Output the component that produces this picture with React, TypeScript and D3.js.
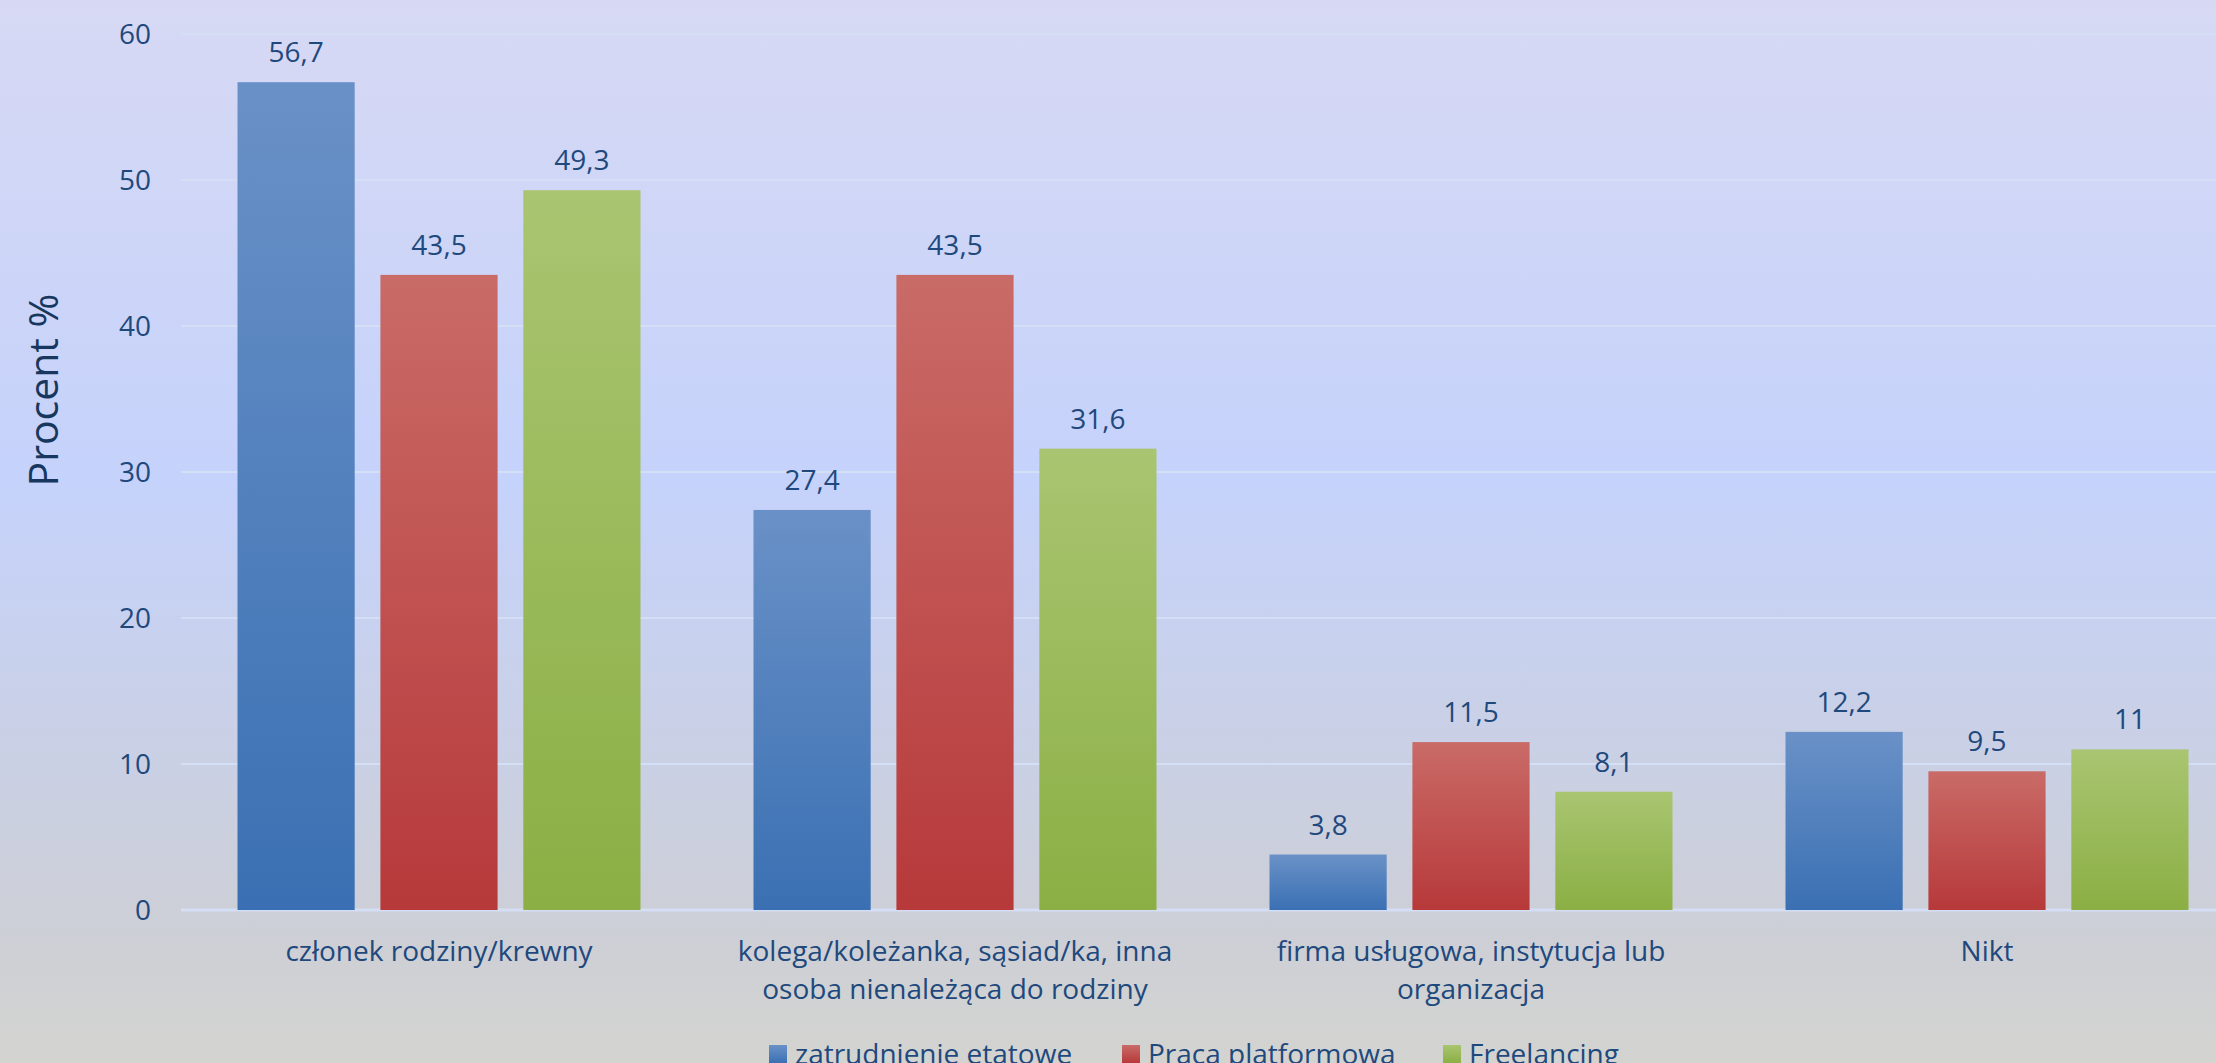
import React from "react";
import * as d3 from "d3";

const categories: string[][] = [
  ["członek rodziny/krewny"],
  ["kolega/koleżanka, sąsiad/ka, inna", "osoba nienależąca do rodziny"],
  ["firma usługowa, instytucja lub", "organizacja"],
  ["Nikt"],
];
const seriesNames = ["zatrudnienie etatowe", "Praca platformowa", "Freelancing"];
const etatowe = [56.7, 27.4, 3.8, 12.2];
const platformowa = [43.5, 43.5, 11.5, 9.5];
const freelancing = [49.3, 31.6, 8.1, 11];
const yTicks = [0, 10, 20, 30, 40, 50, 60];
const yTitle = "Procent %";

const seriesColors = [
  { top: "#6A91C7", bottom: "#3A70B3" },
  { top: "#C96B67", bottom: "#B7393A" },
  { top: "#A9C571", bottom: "#8BAF44" },
];

const W = 2216;
const H = 1063;
const FONT = "'Open Sans', 'Noto Sans', sans-serif";
const TEXT = "#1F497D";

export default function App() {
  const series = [etatowe, platformowa, freelancing];
  const plotLeft = 181;
  const y = d3.scaleLinear().domain([0, 60]).range([910, 34]);
  const x0 = d3
    .scaleBand<number>()
    .domain(d3.range(categories.length))
    .range([plotLeft, plotLeft + 516 * 4])
    .paddingInner(0.219)
    .paddingOuter(0.1095);
  const x1 = d3
    .scaleBand<number>()
    .domain(d3.range(series.length))
    .range([0, x0.bandwidth()])
    .paddingInner(0.18)
    .paddingOuter(0);

  const fmt = (v: number) => String(v).replace(".", ",");

  const legendItems = [
    { x: 769, tx: 795 },
    { x: 1122, tx: 1148 },
    { x: 1443, tx: 1469 },
  ];

  return (
    <div style={{ position: "fixed", left: 0, top: 0, width: W, height: H, overflow: "hidden" }}>
      <svg width={W} height={H} style={{ display: "block" }}>
        <defs>
          <linearGradient id="bg" x1="0" y1="0" x2="0" y2="1">
            <stop offset="0" stopColor="#D7D9F4" />
            <stop offset="0.45" stopColor="#C5D2FB" />
            <stop offset="0.88" stopColor="#CDCFD6" />
            <stop offset="1" stopColor="#D3D4D0" />
          </linearGradient>
          {seriesColors.map((c, i) => (
            <linearGradient key={i} id={`g${i}`} x1="0" y1="0" x2="0" y2="1">
              <stop offset="0" stopColor={c.top} />
              <stop offset="1" stopColor={c.bottom} />
            </linearGradient>
          ))}
        </defs>
        <rect x={0} y={0} width={W} height={H} fill="url(#bg)" />
        {/* gridlines */}
        {yTicks.map((t) => (
          <line
            key={t}
            x1={plotLeft}
            x2={W}
            y1={y(t)}
            y2={y(t)}
            stroke="#D4DEF4"
            strokeWidth={t === 0 ? 3 : 2}
          />
        ))}
        {/* y tick labels */}
        {yTicks.map((t) => (
          <text
            key={"l" + t}
            x={151}
            y={y(t)}
            dy="0.36em"
            textAnchor="end"
            fontFamily={FONT}
            fontSize={28}
            fill={TEXT}
          >
            {t}
          </text>
        ))}
        {/* y title */}
        <text
          transform={`translate(58,390) rotate(-90)`}
          textAnchor="middle"
          fontFamily={FONT}
          fontSize={41}
          fill="#17375E"
        >
          {yTitle}
        </text>
        {/* bars */}
        {categories.map((_, ci) =>
          series.map((s, si) => {
            const bx = (x0(ci) as number) + (x1(si) as number);
            const v = s[ci];
            return (
              <g key={`${ci}-${si}`}>
                <rect
                  x={bx}
                  y={y(v)}
                  width={x1.bandwidth()}
                  height={y(0) - y(v)}
                  fill={`url(#g${si})`}
                />
                <text
                  x={bx + x1.bandwidth() / 2}
                  y={y(v) - 20}
                  textAnchor="middle"
                  fontFamily={FONT}
                  fontSize={28}
                  fill={TEXT}
                >
                  {fmt(v)}
                </text>
              </g>
            );
          })
        )}
        {/* category labels */}
        {categories.map((lines, ci) => (
          <text
            key={"c" + ci}
            textAnchor="middle"
            fontFamily={FONT}
            fontSize={28}
            fill={TEXT}
          >
            {lines.map((ln, li) => (
              <tspan key={li} x={(x0(ci) as number) + x0.bandwidth() / 2} y={961 + li * 38}>
                {ln}
              </tspan>
            ))}
          </text>
        ))}
        {/* legend */}
        {seriesNames.map((n, i) => (
          <g key={"lg" + i}>
            <rect x={legendItems[i].x} y={1045} width={18} height={18} fill={`url(#g${i})`} />
            <text x={legendItems[i].tx} y={1064} fontFamily={FONT} fontSize={28} fill={TEXT}>
              {n}
            </text>
          </g>
        ))}
      </svg>
    </div>
  );
}
